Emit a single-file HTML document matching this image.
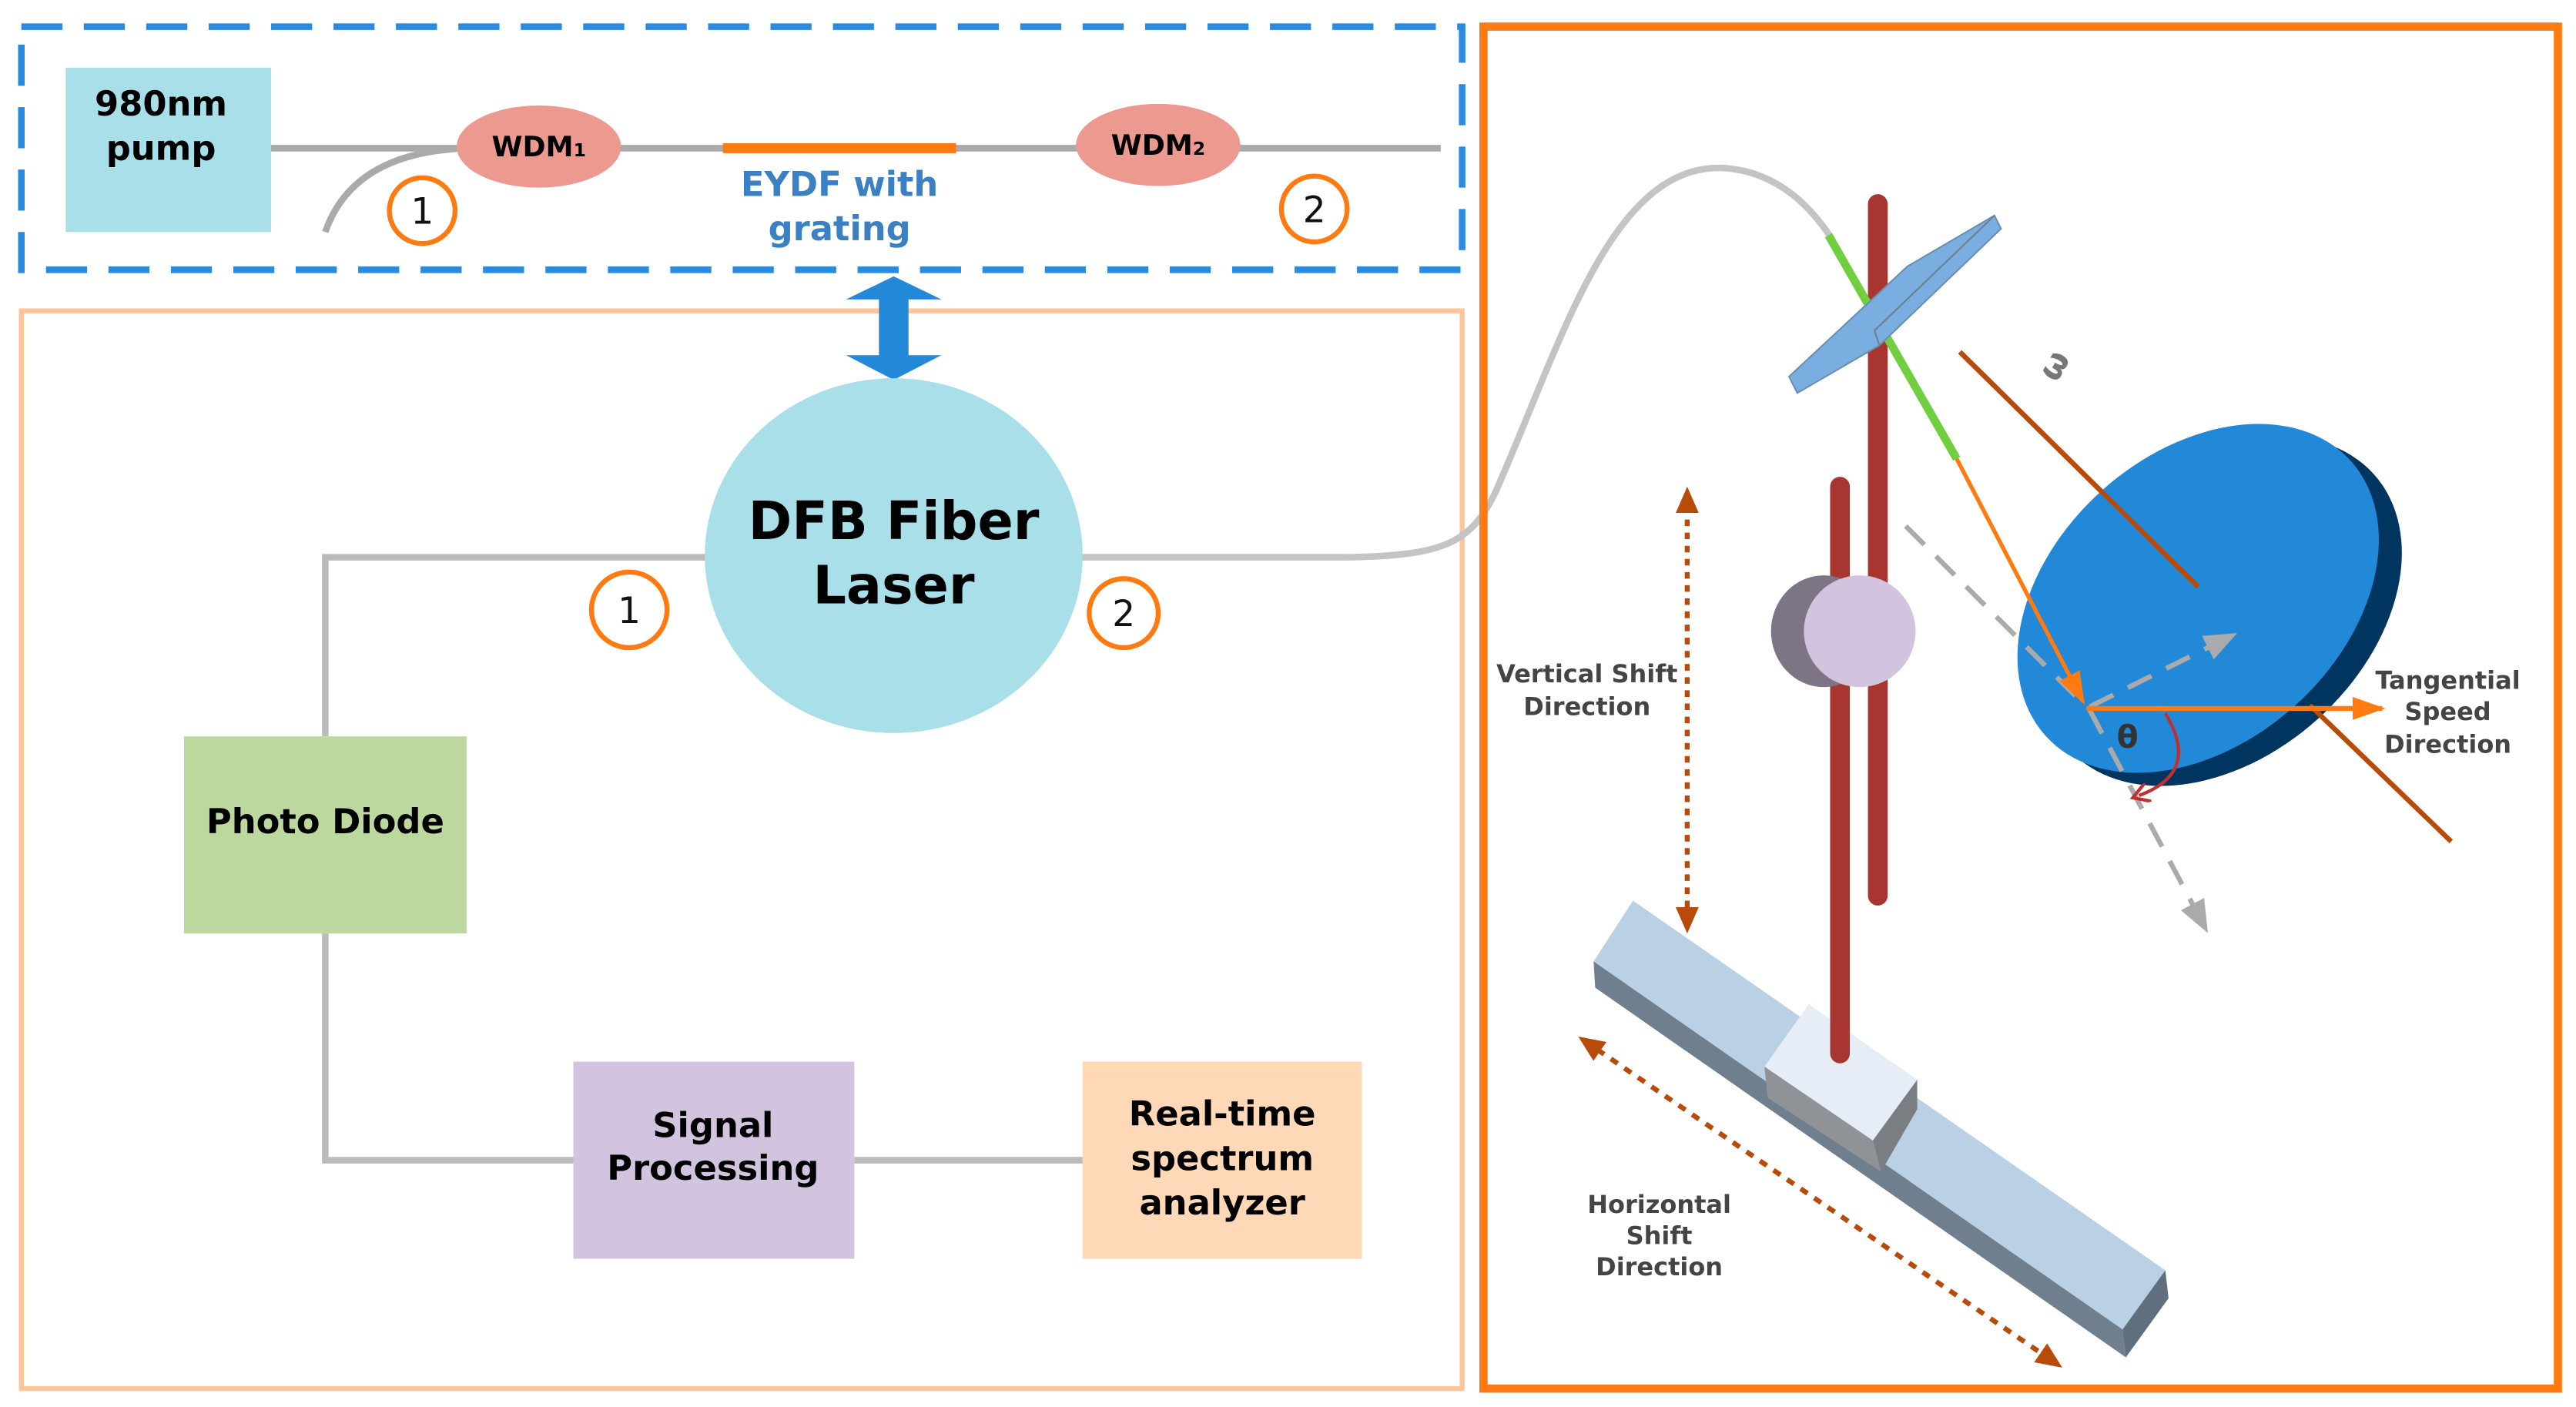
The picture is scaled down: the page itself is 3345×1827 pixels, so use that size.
<!DOCTYPE html>
<html><head><meta charset="utf-8"><style>
html,body{margin:0;padding:0;background:#fff}
svg{display:block}
text{font-family:"DejaVu Sans","Liberation Sans",sans-serif}
</style></head><body>
<svg width="3345" height="1827" viewBox="0 0 1568 856" xmlns="http://www.w3.org/2000/svg">
<defs>
<marker id="ob" markerWidth="16" markerHeight="14" refX="12" refY="7" orient="auto-start-reverse" markerUnits="userSpaceOnUse"><path d="M0,0 L16,7 L0,14 z" fill="#b84a0a"/></marker>
<marker id="gr" markerWidth="22" markerHeight="16" refX="18" refY="8" orient="auto" markerUnits="userSpaceOnUse"><path d="M0,0 L20,8 L0,16 z" fill="#aaa"/></marker>
<marker id="or" markerWidth="22" markerHeight="14" refX="18" refY="7" orient="auto" markerUnits="userSpaceOnUse"><path d="M0,0 L20,7 L0,14 z" fill="#ff7a10"/></marker>
<marker id="rd" markerWidth="12" markerHeight="12" refX="6" refY="6" orient="auto" markerUnits="userSpaceOnUse"><path d="M0,0 L10,6 L0,12" fill="none" stroke="#c03030" stroke-width="2"/></marker>
</defs>
<rect x="13" y="16" width="877" height="148" fill="none" stroke="#2a8ae0" stroke-width="4" stroke-dasharray="25,13"/>
<rect x="40" y="41" width="125" height="100" fill="#a8dfe8"/>
<text x="98" y="70" font-size="21" font-weight="bold" text-anchor="middle">980nm</text>
<text x="98" y="97" font-size="21" font-weight="bold" text-anchor="middle">pump</text>
<line x1="165" y1="90" x2="877" y2="90" stroke="#aaa" stroke-width="4"/>
<path d="M198,141 Q215,92 285,90" fill="none" stroke="#aaa" stroke-width="4"/>
<line x1="440" y1="90" x2="582" y2="90" stroke="#ff7a10" stroke-width="6"/>
<ellipse cx="328" cy="89" rx="50" ry="25" fill="#ec9a90"/>
<ellipse cx="705" cy="88" rx="50" ry="25" fill="#ec9a90"/>
<text x="328" y="95" font-size="17" font-weight="bold" text-anchor="middle">WDM<tspan font-size="11">1</tspan></text>
<text x="705" y="94" font-size="17" font-weight="bold" text-anchor="middle">WDM<tspan font-size="11">2</tspan></text>
<text x="511" y="119" font-size="21" font-weight="bold" fill="#3a80c2" text-anchor="middle">EYDF with</text>
<text x="511" y="146" font-size="21" font-weight="bold" fill="#3a80c2" text-anchor="middle">grating</text>
<g fill="#fff" stroke="#ff7a10" stroke-width="3">
<circle cx="257" cy="128" r="20"/><circle cx="800" cy="127" r="20"/>
<circle cx="383" cy="371" r="23"/><circle cx="684" cy="373" r="21"/></g>
<g font-size="22" text-anchor="middle" fill="#111">
<text x="257" y="136">1</text><text x="800" y="135">2</text>
<text x="383" y="379">1</text><text x="684" y="381">2</text></g>
<rect x="13" y="189" width="877" height="656" fill="none" stroke="#ffc49a" stroke-width="3"/>
<path d="M544,168 L573,182 L553,182 L553,216 L573,216 L544,231 L515,216 L535,216 L535,182 L515,182 z" fill="#2288d8"/>
<path d="M430,339 L198,339 L198,448 M198,568 L198,706 L349,706 M520,706 L659,706" fill="none" stroke="#bbb" stroke-width="4"/>
<path d="M658,339 L820,339 C880,338 895,330 910,300 C950,210 980,100 1048,102 C1085,104 1105,130 1115,145" fill="none" stroke="#c4c4c4" stroke-width="4"/>
<ellipse cx="544" cy="338" rx="115" ry="108" fill="#a8dfe8"/>
<text x="544" y="328" font-size="32" font-weight="bold" text-anchor="middle">DFB Fiber</text>
<text x="544" y="367" font-size="32" font-weight="bold" text-anchor="middle">Laser</text>
<rect x="112" y="448" width="172" height="120" fill="#bdd89e"/>
<text x="198" y="507" font-size="21" font-weight="bold" text-anchor="middle">Photo Diode</text>
<rect x="349" y="646" width="171" height="120" fill="#d2c4de"/>
<text x="434" y="692" font-size="21" font-weight="bold" text-anchor="middle">Signal</text>
<text x="434" y="718" font-size="21" font-weight="bold" text-anchor="middle">Processing</text>
<rect x="659" y="646" width="170" height="120" fill="#ffd8b8"/>
<text x="744" y="685" font-size="21" font-weight="bold" text-anchor="middle">Real-time</text>
<text x="744" y="712" font-size="21" font-weight="bold" text-anchor="middle">spectrum</text>
<text x="744" y="739" font-size="21" font-weight="bold" text-anchor="middle">analyzer</text>
<rect x="903" y="16" width="654" height="829" fill="none" stroke="#ff7a10" stroke-width="5"/>
<polygon points="970,585 994,548 1318,773 1292,809" fill="#b9d0e5"/>
<polygon points="970,585 1292,809 1294,826 971,601" fill="#6f7f8e"/>
<polygon points="1292,809 1318,773 1320,790 1294,826" fill="#5f6f7e"/>
<polygon points="1074,649 1101,611 1167,657 1140,694" fill="#e6edf7"/>
<polygon points="1074,649 1140,694 1145,713 1076,668" fill="#8f9296"/>
<polygon points="1140,694 1167,657 1167,675 1145,713" fill="#7a7d82"/>
<line x1="1143" y1="124" x2="1143" y2="545" stroke="#a83530" stroke-width="12" stroke-linecap="round"/>
<line x1="1120" y1="296" x2="1120" y2="641" stroke="#a83530" stroke-width="12" stroke-linecap="round"/>
<ellipse cx="1110" cy="384" rx="32" ry="34" fill="#7d7585"/>
<ellipse cx="1132" cy="384" rx="34" ry="34" fill="#d2c4de"/>
<line x1="1113" y1="143" x2="1191" y2="279" stroke="#6fcf3f" stroke-width="5"/>
<polygon points="1089,229 1161,162 1214,131 1218,139 1144,210 1094,239" fill="#7aaee0" stroke="#6a8fb0" stroke-width="1"/>
<line x1="1141" y1="201" x2="1214" y2="131" stroke="#6a8090" stroke-width="1"/>
<line x1="1141" y1="201" x2="1144" y2="210" stroke="#6a8090" stroke-width="1"/>
<line x1="1193" y1="214" x2="1338" y2="357" stroke="#b84a0a" stroke-width="3"/>
<ellipse cx="1352" cy="372" rx="125" ry="88" transform="rotate(-42 1352 372)" fill="#003560"/>
<ellipse cx="1338" cy="364" rx="125" ry="88" transform="rotate(-42 1338 364)" fill="#2288d8"/>
<line x1="1193" y1="214" x2="1338" y2="357" stroke="#b84a0a" stroke-width="3"/>
<line x1="1406" y1="429" x2="1492" y2="512" stroke="#b84a0a" stroke-width="3"/>
<text x="1250" y="229" font-size="20" font-weight="bold" fill="#777" text-anchor="middle" transform="rotate(-60 1250 222)">ω</text>
<line x1="1160" y1="320" x2="1268" y2="428" stroke="#aaa" stroke-width="3" stroke-dasharray="16,10"/>
<line x1="1272" y1="430" x2="1360" y2="386" stroke="#aaa" stroke-width="3" stroke-dasharray="16,10" marker-end="url(#gr)"/>
<line x1="1272" y1="432" x2="1343" y2="566" stroke="#aaa" stroke-width="3" stroke-dasharray="16,10" marker-end="url(#gr)"/>
<line x1="1191" y1="279" x2="1268" y2="427" stroke="#ff7a10" stroke-width="2.5" marker-end="url(#or)"/>
<line x1="1270" y1="431" x2="1450" y2="431" stroke="#ff7a10" stroke-width="3" marker-end="url(#or)"/>
<path d="M1318,434 Q1340,470 1302,484" fill="none" stroke="#c03030" stroke-width="2" marker-end="url(#rd)"/>
<text x="1295" y="455" font-size="19" font-weight="bold" fill="#333" text-anchor="middle">θ</text>
<line x1="1027" y1="300" x2="1027" y2="564" stroke="#b84a0a" stroke-width="3" stroke-dasharray="4,4" marker-start="url(#ob)" marker-end="url(#ob)"/>
<line x1="964" y1="633" x2="1252" y2="830" stroke="#b84a0a" stroke-width="3" stroke-dasharray="5,5" marker-start="url(#ob)" marker-end="url(#ob)"/>
<g font-size="15" font-weight="bold" fill="#444" text-anchor="middle">
<text x="966" y="415">Vertical Shift</text><text x="966" y="435">Direction</text>
<text x="1010" y="738">Horizontal</text><text x="1010" y="757">Shift</text><text x="1010" y="776">Direction</text>
<text x="1490" y="419">Tangential</text><text x="1490" y="438">Speed</text><text x="1490" y="458">Direction</text>
</g>
</svg>
</body></html>
